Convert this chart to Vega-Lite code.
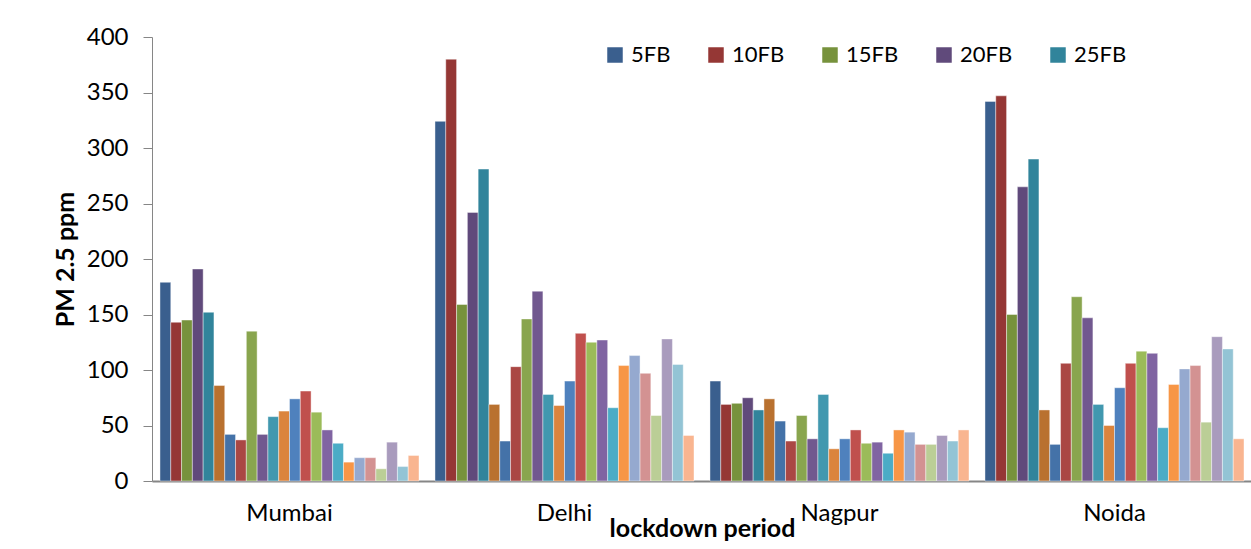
{
  "$schema": "https://vega.github.io/schema/vega-lite/v6.json",
  "autosize": "none",
  "width": 1100,
  "height": 444,
  "padding": {"left": 152, "top": 37, "right": 0, "bottom": 68},
  "background": "#ffffff",
  "config": {
    "font": "Lato",
    "view": {"stroke": null},
    "axis": {"labelColor": "#000000", "titleColor": "#000000", "domainColor": "#868686", "tickColor": "#868686", "grid": false}
  },
  "data": {"values": [
    {"city":"Mumbai","series":"5FB","v":179},{"city":"Mumbai","series":"10FB","v":143},{"city":"Mumbai","series":"15FB","v":145},{"city":"Mumbai","series":"20FB","v":191},{"city":"Mumbai","series":"25FB","v":152},{"city":"Mumbai","series":"1MR","v":86},{"city":"Mumbai","series":"5MR","v":42},{"city":"Mumbai","series":"10MR","v":37},{"city":"Mumbai","series":"15MR","v":135},{"city":"Mumbai","series":"20MR","v":42},{"city":"Mumbai","series":"25MR","v":58},{"city":"Mumbai","series":"30MR","v":63},{"city":"Mumbai","series":"5AP","v":74},{"city":"Mumbai","series":"10AP","v":81},{"city":"Mumbai","series":"15AP","v":62},{"city":"Mumbai","series":"20AP","v":46},{"city":"Mumbai","series":"25AP","v":34},{"city":"Mumbai","series":"30AP","v":17},{"city":"Mumbai","series":"5MY","v":21},{"city":"Mumbai","series":"10MY","v":21},{"city":"Mumbai","series":"15MY","v":11},{"city":"Mumbai","series":"20MY","v":35},{"city":"Mumbai","series":"25MY","v":13},{"city":"Mumbai","series":"30MY","v":23},
    {"city":"Delhi","series":"5FB","v":324},{"city":"Delhi","series":"10FB","v":380},{"city":"Delhi","series":"15FB","v":159},{"city":"Delhi","series":"20FB","v":242},{"city":"Delhi","series":"25FB","v":281},{"city":"Delhi","series":"1MR","v":69},{"city":"Delhi","series":"5MR","v":36},{"city":"Delhi","series":"10MR","v":103},{"city":"Delhi","series":"15MR","v":146},{"city":"Delhi","series":"20MR","v":171},{"city":"Delhi","series":"25MR","v":78},{"city":"Delhi","series":"30MR","v":68},{"city":"Delhi","series":"5AP","v":90},{"city":"Delhi","series":"10AP","v":133},{"city":"Delhi","series":"15AP","v":125},{"city":"Delhi","series":"20AP","v":127},{"city":"Delhi","series":"25AP","v":66},{"city":"Delhi","series":"30AP","v":104},{"city":"Delhi","series":"5MY","v":113},{"city":"Delhi","series":"10MY","v":97},{"city":"Delhi","series":"15MY","v":59},{"city":"Delhi","series":"20MY","v":128},{"city":"Delhi","series":"25MY","v":105},{"city":"Delhi","series":"30MY","v":41},
    {"city":"Nagpur","series":"5FB","v":90},{"city":"Nagpur","series":"10FB","v":69},{"city":"Nagpur","series":"15FB","v":70},{"city":"Nagpur","series":"20FB","v":75},{"city":"Nagpur","series":"25FB","v":64},{"city":"Nagpur","series":"1MR","v":74},{"city":"Nagpur","series":"5MR","v":54},{"city":"Nagpur","series":"10MR","v":36},{"city":"Nagpur","series":"15MR","v":59},{"city":"Nagpur","series":"20MR","v":38},{"city":"Nagpur","series":"25MR","v":78},{"city":"Nagpur","series":"30MR","v":29},{"city":"Nagpur","series":"5AP","v":38},{"city":"Nagpur","series":"10AP","v":46},{"city":"Nagpur","series":"15AP","v":34},{"city":"Nagpur","series":"20AP","v":35},{"city":"Nagpur","series":"25AP","v":25},{"city":"Nagpur","series":"30AP","v":46},{"city":"Nagpur","series":"5MY","v":44},{"city":"Nagpur","series":"10MY","v":33},{"city":"Nagpur","series":"15MY","v":33},{"city":"Nagpur","series":"20MY","v":41},{"city":"Nagpur","series":"25MY","v":36},{"city":"Nagpur","series":"30MY","v":46},
    {"city":"Noida","series":"5FB","v":342},{"city":"Noida","series":"10FB","v":347},{"city":"Noida","series":"15FB","v":150},{"city":"Noida","series":"20FB","v":265},{"city":"Noida","series":"25FB","v":290},{"city":"Noida","series":"1MR","v":64},{"city":"Noida","series":"5MR","v":33},{"city":"Noida","series":"10MR","v":106},{"city":"Noida","series":"15MR","v":166},{"city":"Noida","series":"20MR","v":147},{"city":"Noida","series":"25MR","v":69},{"city":"Noida","series":"30MR","v":50},{"city":"Noida","series":"5AP","v":84},{"city":"Noida","series":"10AP","v":106},{"city":"Noida","series":"15AP","v":117},{"city":"Noida","series":"20AP","v":115},{"city":"Noida","series":"25AP","v":48},{"city":"Noida","series":"30AP","v":87},{"city":"Noida","series":"5MY","v":101},{"city":"Noida","series":"10MY","v":104},{"city":"Noida","series":"15MY","v":53},{"city":"Noida","series":"20MY","v":130},{"city":"Noida","series":"25MY","v":119},{"city":"Noida","series":"30MY","v":38}
  ]},
  "mark": {"type": "bar", "stroke": "#ffffff", "strokeWidth": 0.6, "strokeOpacity": 0.7},
  "encoding": {
    "x": {
      "field": "city", "type": "nominal",
      "scale": {"domain": ["Mumbai","Delhi","Nagpur","Noida"], "paddingInner": 0, "paddingOuter": 0},
      "axis": {"title": "lockdown period", "labelAngle": 0, "labelFontSize": 24, "ticks": false, "labelPadding": 20, "domainWidth": 2, "titleFontSize": 25, "titleFontWeight": "bold", "titlePadding": -9}
    },
    "xOffset": {
      "field": "series", "type": "nominal",
      "scale": {"domain": ["5FB","10FB","15FB","20FB","25FB","1MR","5MR","10MR","15MR","20MR","25MR","30MR","5AP","10AP","15AP","20AP","25AP","30AP","5MY","10MY","15MY","20MY","25MY","30MY"], "paddingInner": 0, "paddingOuter": 0.74}
    },
    "y": {
      "field": "v", "type": "quantitative",
      "scale": {"domain": [0, 400], "nice": false},
      "axis": {"title": "PM 2.5 ppm", "values": [0,50,100,150,200,250,300,350,400], "labelFontSize": 24, "tickSize": 9, "labelPadding": 15, "titleFontSize": 25, "titleFontWeight": "bold", "titlePadding": 8}
    },
    "color": {
      "field": "series", "type": "nominal",
      "scale": {
        "domain": ["5FB","10FB","15FB","20FB","25FB","1MR","5MR","10MR","15MR","20MR","25MR","30MR","5AP","10AP","15AP","20AP","25AP","30AP","5MY","10MY","15MY","20MY","25MY","30MY"],
        "range": ["#3A5F8E","#953735","#77923C","#604A7B","#31849B","#B9712F","#4472A8","#AA4744","#89A54E","#71588F","#4198AF","#DB843D","#4F81BD","#C0504D","#9BBB59","#8064A2","#4BACC6","#F79646","#95A9CF","#D39292","#BBCE96","#A99BBD","#93C4D5","#F9B590"]
      },
      "legend": {
        "values": ["5FB","10FB","15FB","20FB","25FB"],
        "title": null, "orient": "none", "legendX": 452, "legendY": 7,
        "direction": "horizontal", "columns": 5, "columnPadding": 34,
        "symbolType": "square", "symbolSize": 240, "symbolStrokeWidth": 0,
        "labelFontSize": 22, "labelOffset": 5, "labelColor": "#000000"
      }
    }
  }
}
